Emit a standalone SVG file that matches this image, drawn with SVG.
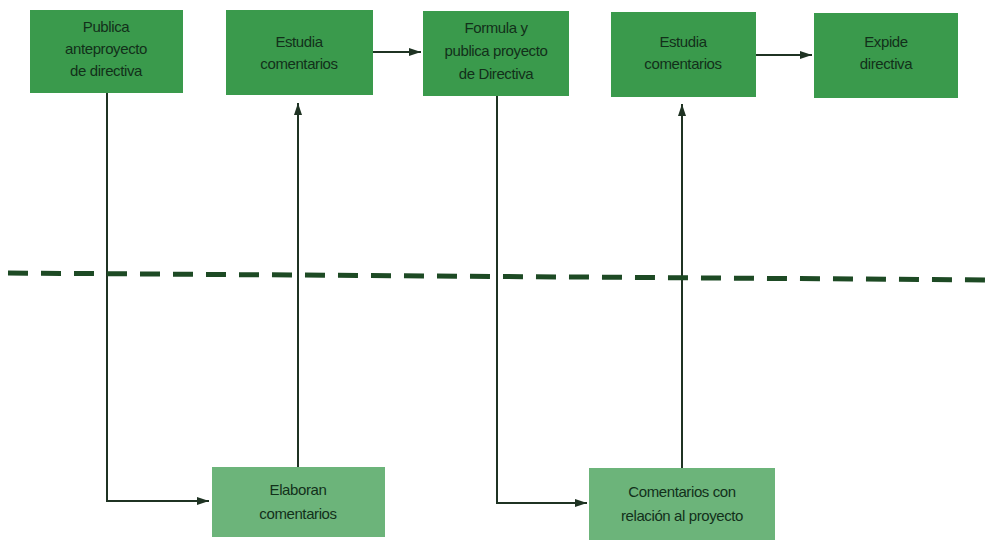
<svg xmlns="http://www.w3.org/2000/svg" width="995" height="540" viewBox="0 0 995 540">
<style>
.top{fill:#3a9a4c;}
.bot{fill:#6cb47a;}
.t{font-family:"Liberation Sans",Arial,sans-serif;font-size:15px;fill:#12301a;text-anchor:middle;letter-spacing:-0.4px;}
.ln{fill:none;stroke:#1f3323;stroke-width:2;}
</style>
<defs>
<marker id="ah" viewBox="0 0 12 8" refX="12" refY="4" markerWidth="12" markerHeight="8" markerUnits="userSpaceOnUse" orient="auto">
<path d="M0,0 L12,4 L0,8 Z" fill="#1f3323"/>
</marker>
</defs>
<rect width="995" height="540" fill="#ffffff"/>
<g id="n1"><rect class="top" x="30" y="10" width="153" height="83"/>
<text class="t" x="106" y="32">Publica</text><text class="t" x="106" y="54">anteproyecto</text><text class="t" x="106" y="76">de directiva</text></g>
<g id="n2"><rect class="top" x="226" y="10" width="147" height="85"/>
<text class="t" x="299" y="47">Estudia</text><text class="t" x="299" y="69">comentarios</text></g>
<g id="n3"><rect class="top" x="423" y="11" width="146" height="85"/>
<text class="t" x="496" y="33">Formula y</text><text class="t" x="496" y="56">publica proyecto</text><text class="t" x="496" y="79">de Directiva</text></g>
<g id="n4"><rect class="top" x="611" y="12" width="145" height="85"/>
<text class="t" x="683" y="47">Estudia</text><text class="t" x="683" y="69">comentarios</text></g>
<g id="n5"><rect class="top" x="814" y="13" width="144" height="85"/>
<text class="t" x="886" y="47">Expide</text><text class="t" x="886" y="69">directiva</text></g>
<g id="n6"><rect class="bot" x="212" y="467" width="173" height="70"/>
<text class="t" x="298" y="495">Elaboran</text><text class="t" x="298" y="519">comentarios</text></g>
<g id="n7"><rect class="bot" x="589" y="468" width="186" height="72"/>
<text class="t" x="682" y="497">Comentarios con</text><text class="t" x="682" y="521">relación al proyecto</text></g>
<g id="connectors">
<polyline class="ln" points="107,93 107,501 209,501" marker-end="url(#ah)"/>
<line class="ln" x1="298" y1="467" x2="298" y2="103" marker-end="url(#ah)"/>
<line class="ln" x1="373" y1="52" x2="421" y2="52" marker-end="url(#ah)"/>
<polyline class="ln" points="497,96 497,503 587,503" marker-end="url(#ah)"/>
<line class="ln" x1="682" y1="468" x2="682" y2="104" marker-end="url(#ah)"/>
<line class="ln" x1="756" y1="55" x2="812" y2="55" marker-end="url(#ah)"/>
<line x1="8" y1="273" x2="995" y2="280" stroke="#1d4a24" stroke-width="5" stroke-dasharray="20 13"/>
</g>
</svg>
